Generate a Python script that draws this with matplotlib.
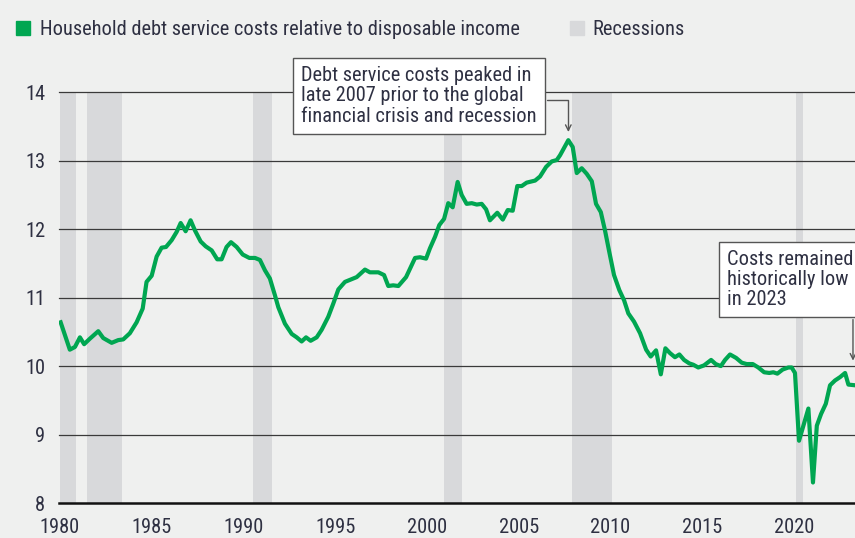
#Grafica del costo del servicio de deuda de los hogares

#Librerias necesarias
import matplotlib.pyplot as plt
from matplotlib.patches import Rectangle

plt.rcParams['font.family'] = ['Roboto Condensed', 'Roboto', 'DejaVu Sans']

#Datos: año y costo del servicio de deuda (% del ingreso disponible)
anios = [1980.04, 1980.54, 1980.82, 1981.09, 1981.32, 1981.63, 1982.09, 1982.36,
         1982.82, 1983.18, 1983.45, 1983.81, 1984.18, 1984.51, 1984.72, 1985.00,
         1985.27, 1985.54, 1985.78, 1986.09, 1986.36, 1986.58, 1986.85, 1987.12,
         1987.36, 1987.67, 1987.94, 1988.27, 1988.57, 1988.81, 1989.08, 1989.32,
         1989.63, 1989.96, 1990.32, 1990.63, 1990.90, 1991.17, 1991.44, 1991.72,
         1991.90, 1992.26, 1992.63, 1992.90, 1993.17, 1993.41, 1993.66, 1993.99,
         1994.26, 1994.62, 1994.89, 1995.17, 1995.53, 1995.80, 1996.17, 1996.62,
         1996.89, 1997.35, 1997.66, 1997.89, 1998.16, 1998.44, 1998.86, 1999.07,
         1999.35, 1999.62, 1999.95, 2000.16, 2000.44, 2000.67, 2000.93, 2001.16,
         2001.40, 2001.67, 2001.89, 2002.16, 2002.44, 2002.71, 2002.98, 2003.22,
         2003.43, 2003.83, 2004.13, 2004.40, 2004.67, 2004.92, 2005.16, 2005.43,
         2005.89, 2006.16, 2006.49, 2006.80, 2007.07, 2007.25, 2007.70, 2007.94,
         2008.16, 2008.43, 2008.70, 2008.98, 2009.21, 2009.47, 2009.70, 2009.93,
         2010.19, 2010.48, 2010.74, 2010.97, 2011.28, 2011.61, 2011.94, 2012.19,
         2012.48, 2012.74, 2012.99, 2013.24, 2013.51, 2013.75, 2014.01, 2014.29,
         2014.51, 2014.78, 2015.09, 2015.48, 2015.73, 2016.01, 2016.24, 2016.51,
         2016.84, 2017.15, 2017.42, 2017.75, 2018.05, 2018.37, 2018.65, 2018.87,
         2019.09, 2019.38, 2019.69, 2019.87, 2020.05, 2020.27, 2020.51, 2020.78,
         2021.03, 2021.24, 2021.47, 2021.73, 2021.96, 2022.23, 2022.51, 2022.78,
         2022.96, 2023.32]
costos = [10.64, 10.24, 10.28, 10.42, 10.32, 10.40, 10.51, 10.41,
          10.34, 10.38, 10.39, 10.48, 10.64, 10.84, 11.23, 11.32,
          11.60, 11.73, 11.74, 11.84, 11.96, 12.09, 11.97, 12.13,
          11.98, 11.82, 11.75, 11.69, 11.56, 11.56, 11.74, 11.81,
          11.74, 11.63, 11.58, 11.58, 11.55, 11.40, 11.28, 11.03,
          10.86, 10.62, 10.47, 10.42, 10.36, 10.42, 10.37, 10.42,
          10.53, 10.72, 10.91, 11.12, 11.23, 11.26, 11.30, 11.41,
          11.37, 11.37, 11.33, 11.17, 11.18, 11.17, 11.30, 11.42,
          11.58, 11.59, 11.57, 11.72, 11.89, 12.06, 12.15, 12.38,
          12.32, 12.69, 12.50, 12.37, 12.38, 12.36, 12.37, 12.29,
          12.13, 12.24, 12.14, 12.28, 12.27, 12.63, 12.63, 12.68,
          12.71, 12.77, 12.91, 12.99, 13.01, 13.08, 13.30, 13.20,
          12.82, 12.89, 12.81, 12.70, 12.37, 12.25, 11.98, 11.67,
          11.33, 11.11, 10.96, 10.77, 10.65, 10.48, 10.24, 10.14,
          10.23, 9.88, 10.26, 10.19, 10.13, 10.17, 10.09, 10.04,
          10.02, 9.98, 10.01, 10.09, 10.03, 10.00, 10.09, 10.17,
          10.12, 10.05, 10.03, 10.03, 9.98, 9.91, 9.90, 9.91,
          9.89, 9.95, 9.98, 9.98, 9.90, 8.91, 9.13, 9.38,
          8.30, 9.13, 9.30, 9.45, 9.72, 9.79, 9.84, 9.90,
          9.73, 9.72]

#Recesiones (inicio y fin)
rec_inicio = [1980.0, 1981.5, 1990.5, 2000.9, 2007.9, 2020.1]
rec_fin = [1980.85, 1983.4, 1991.55, 2001.9, 2010.1, 2020.5]

#Marcas de los ejes
anios_eje = [1980, 1985, 1990, 1995, 2000, 2005, 2010, 2015, 2020]
valores_eje = [8, 9, 10, 11, 12, 13, 14]

#Colores y tamaño de letra
fondo = '#EFF0EF'
verde = '#00A651'
gris = '#D8D9DB'
texto = '#2E3042'
letra = 14.7

fig = plt.figure(figsize=(8.55, 5.38), dpi=100, facecolor=fondo)
ax = fig.add_axes([0.069, 0.065, 0.931, 0.7635])
ax.set_facecolor(fondo)

#Bandas de recesion
for ini, fin in zip(rec_inicio, rec_fin):
    ax.axvspan(ini, fin, color=gris, lw=0, zorder=1)

#Lineas horizontales
for v in valores_eje[1:]:
    ax.axhline(v, color='#3A3A3A', lw=0.9, zorder=2, clip_on=False)
ax.axhline(valores_eje[0], color='#111111', lw=1.8, zorder=2, clip_on=False)

#Serie principal
ax.plot(anios, costos, color=verde, lw=3, zorder=3, solid_joinstyle='round')

ax.set_xlim(1979.95, 2023.32)
ax.set_ylim(8, 14)
for s in ax.spines.values():
    s.set_visible(False)
ax.set_xticks(anios_eje)
ax.set_yticks(valores_eje)
ax.tick_params(length=0, labelsize=letra, colors=texto)
ax.tick_params(axis='x', pad=11)
ax.tick_params(axis='y', pad=10)

#Anotaciones
caja = dict(boxstyle='square,pad=0.4', fc='white', ec='#555555', lw=1)
ax.text(1993.16, 14.38, "Debt service costs peaked in\nlate 2007 prior to the global\nfinancial crisis and recession",
        ha='left', va='top', fontsize=letra, color=texto, bbox=caja, zorder=5, linespacing=1.08)
ax.annotate('', xy=(2007.70, 13.42), xytext=(2006.52, 13.89),
            arrowprops=dict(arrowstyle='->', color='#555555', lw=1, shrinkA=0, shrinkB=0,
                            connectionstyle='angle,angleA=0,angleB=90,rad=0'),
            zorder=4, annotation_clip=False)
ax.text(2016.35, 11.70, "Costs remained\nhistorically low\nin 2023",
        ha='left', va='top', fontsize=letra, color=texto, bbox=caja, zorder=5, linespacing=1.08)
ax.annotate('', xy=(2023.21, 10.08), xytext=(2023.21, 10.68),
            arrowprops=dict(arrowstyle='->', color='#555555', lw=1, shrinkA=0, shrinkB=0),
            zorder=4, annotation_clip=False)

#Leyenda
fig.add_artist(Rectangle((16/855, 1-34.7/538), 14/855, 14/538, transform=fig.transFigure,
                         color=verde))
fig.text(40/855, 1-34.7/538, "Household debt service costs relative to disposable income",
         fontsize=letra, color=texto, va='baseline')
fig.add_artist(Rectangle((570/855, 1-34.7/538), 14/855, 14/538, transform=fig.transFigure,
                         color=gris))
fig.text(592/855, 1-34.7/538, "Recessions", fontsize=letra, color=texto, va='baseline')

fig.savefig("out.png", dpi=100, facecolor=fondo)
